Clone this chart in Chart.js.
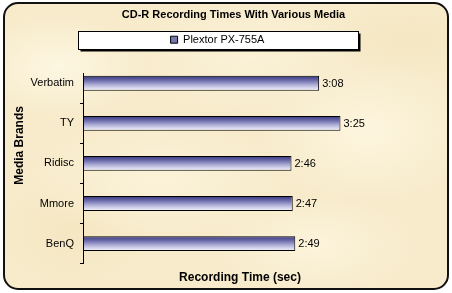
<!DOCTYPE html>
<html>
<head>
<meta charset="utf-8">
<script src="https://cdn.jsdelivr.net/npm/chart.js@4.4.1/dist/chart.umd.min.js"></script>
<style>
  html, body { margin: 0; padding: 0; background: #fff; }
  #wrap { position: relative; width: 452px; height: 293px; overflow: hidden; }
  #paper {
    position: absolute; left: 3px; top: 2px; width: 442px; height: 284px;
    border: 2px solid #111; border-radius: 15px;
    background-color: #f7ebcb;
    background-image:
      radial-gradient(ellipse 90px 50px at 12% 22%, rgba(255,250,232,0.75), rgba(255,250,232,0) 100%),
      radial-gradient(ellipse 120px 60px at 55% 18%, rgba(252,244,220,0.7), rgba(252,244,220,0) 100%),
      radial-gradient(ellipse 110px 70px at 82% 45%, rgba(255,249,230,0.7), rgba(255,249,230,0) 100%),
      radial-gradient(ellipse 130px 60px at 35% 62%, rgba(253,246,224,0.65), rgba(253,246,224,0) 100%),
      radial-gradient(ellipse 100px 50px at 70% 85%, rgba(254,247,226,0.7), rgba(254,247,226,0) 100%),
      radial-gradient(ellipse 80px 60px at 15% 80%, rgba(244,228,188,0.6), rgba(244,228,188,0) 100%),
      radial-gradient(ellipse 90px 40px at 92% 12%, rgba(243,227,186,0.55), rgba(243,227,186,0) 100%);
  }
  canvas { position: absolute; left: 0; top: 0; }
</style>
</head>
<body>
<div id="wrap">
  <div id="paper"></div>
  <canvas id="chart" width="452" height="293"></canvas>
</div>
<script>
// Chart text
const chartTitle = 'CD-R Recording Times With Various Media';
const seriesName = 'Plextor PX-755A';
const xAxisTitle = 'Recording Time (sec)';
const yAxisTitle = 'Media Brands';

// Categories (top to bottom) and recording times in seconds
const brands = ['Verbatim', 'TY', 'Ridisc', 'Mmore', 'BenQ'];
const recordSeconds = [188, 205, 166, 167, 169];

// Value axis range (seconds)
const timeMin = 0;
const timeMax = 250;

const FONT = '"Liberation Sans", Arial, sans-serif';
Chart.defaults.font.family = FONT;
Chart.defaults.color = '#000';

const fmtTime = s => Math.floor(s / 60) + ':' + String(s % 60).padStart(2, '0');

function barGradient(ctx) {
  const chart = ctx.chart;
  const ys = chart.scales && chart.scales.y;
  if (!ys || ctx.type !== 'data') return '#7878b0';
  const c = ys.getPixelForValue(ctx.dataIndex);
  const half = 7.5;
  const g = chart.ctx.createLinearGradient(0, c - half, 0, c + half);
  g.addColorStop(0, '#34347a');
  g.addColorStop(0.3, '#6a6aaa');
  g.addColorStop(0.65, '#b8b8dc');
  g.addColorStop(1, '#f8f8ff');
  return g;
}

// Title and legend placement; legend gets extra room below and a shadowed white frame
const headerLayout = {
  id: 'headerLayout',
  beforeInit(chart) {
    const lg = chart.legend;
    const fit = lg.fit;
    lg.fit = function () { fit.call(this); this.height += 18; };
  },
  afterLayout(chart) {
    chart.legend.left += 15;
    chart.legend.right += 15;
    chart.titleBlock.left += 31;
    chart.titleBlock.right += 31;
  },
  beforeDraw(chart) {
    const lg = chart.legend;
    const c = chart.ctx;
    const cx = (lg.left + lg.right) / 2;
    const cy = lg.top + lg.options.labels.padding + 5.5;
    const w = 280, h = 18;
    const x = Math.round(cx - w / 2) + 0.5, y = Math.round(cy - h / 2) + 0.5;
    c.save();
    c.fillStyle = '#000';
    c.fillRect(x + 2, y + 2, w, h);
    c.fillStyle = '#fff';
    c.fillRect(x, y, w, h);
    c.strokeStyle = '#000';
    c.lineWidth = 1;
    c.strokeRect(x, y, w, h);
    c.restore();
  }
};

// Time labels to the right of each bar, and the rotated category-axis title
const barLabels = {
  id: 'barLabels',
  afterDatasetsDraw(chart) {
    const c = chart.ctx;
    const meta = chart.getDatasetMeta(0);
    c.save();
    c.font = '11px ' + FONT;
    c.fillStyle = '#000';
    c.textAlign = 'left';
    c.textBaseline = 'middle';
    meta.data.forEach((bar, i) => {
      c.fillText(fmtTime(recordSeconds[i]), bar.x + 3, bar.y + 0.5);
    });
    c.restore();
  },
  afterDraw(chart) {
    const c = chart.ctx;
    const area = chart.chartArea;
    c.save();
    c.translate(20, (area.top + area.bottom) / 2 - 23);
    c.rotate(-Math.PI / 2);
    c.font = 'bold 12px ' + FONT;
    c.fillStyle = '#000';
    c.textAlign = 'center';
    c.textBaseline = 'middle';
    c.fillText(yAxisTitle, 0, 0);
    c.restore();
  }
};

new Chart(document.getElementById('chart'), {
  type: 'bar',
  data: {
    datasets: [{
      label: seriesName,
      data: brands.map((b, i) => ({ x: recordSeconds[i], y: i })),
      backgroundColor: barGradient,
      borderColor: '#000',
      borderWidth: 1,
      borderSkipped: false,
      categoryPercentage: 1,
      barPercentage: 0.37
    }]
  },
  options: {
    indexAxis: 'y',
    responsive: false,
    animation: false,
    events: [],
    layout: { padding: { left: 8, right: 55, top: 0, bottom: 8 } },
    plugins: {
      title: {
        display: true, text: chartTitle, color: '#000',
        font: { family: FONT, size: 11, weight: 'bold' },
        padding: { top: 8, bottom: 6 }
      },
      legend: {
        display: true, position: 'top',
        labels: {
          boxWidth: 7, boxHeight: 7, padding: 7, color: '#000',
          font: { family: FONT, size: 11 },
          generateLabels: () => [{
            text: seriesName, fillStyle: '#7878b0', strokeStyle: '#000',
            lineWidth: 1, hidden: false, datasetIndex: 0, fontColor: '#000'
          }]
        }
      },
      tooltip: { enabled: false }
    },
    scales: {
      x: {
        type: 'linear', min: timeMin, max: timeMax,
        grid: { display: false, drawTicks: false },
        border: { display: false },
        ticks: { display: false },
        title: {
          display: true, text: xAxisTitle, color: '#000',
          font: { family: FONT, size: 12, weight: 'bold' },
          padding: { top: 7, bottom: 0 }
        }
      },
      y: {
        type: 'linear', reverse: true, offset: false,
        min: -0.25, max: brands.length - 0.5,
        afterBuildTicks: s => { s.ticks = brands.map((b, i) => ({ value: i })); },
        afterFit: s => { s.width = 75; },
        ticks: {
          autoSkip: false, padding: 6, color: '#000',
          font: { family: FONT, size: 11 },
          callback: v => brands[v]
        },
        grid: {
          display: true, offset: true, drawOnChartArea: false,
          drawTicks: true, tickLength: 3, color: '#000', lineWidth: 1
        },
        border: { display: true, color: '#000', width: 1 }
      }
    }
  },
  plugins: [headerLayout, barLabels]
});
</script>
</body>
</html>
